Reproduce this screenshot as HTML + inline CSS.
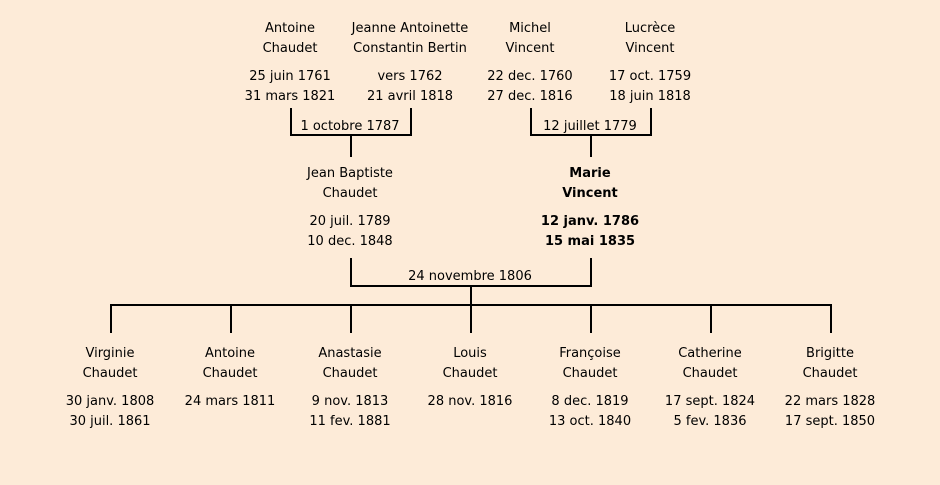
<!DOCTYPE html>
<html><head><meta charset="utf-8"><style>
body{margin:0;width:940px;height:485px;background:#fdebd8;position:relative;overflow:hidden;font-family:"Comic Sans MS","DejaVu Sans",sans-serif;font-size:13px;color:#000}
.t{position:absolute;width:160px;text-align:center;line-height:20px;white-space:nowrap;margin-top:2px}
.b{font-weight:bold}
.l{position:absolute;background:#000}
</style></head><body>
<div class="t" style="left:210px;top:17px">Antoine<br>Chaudet</div>
<div class="t" style="left:210px;top:65px">25 juin 1761<br>31 mars 1821</div>
<div class="t" style="left:330px;top:17px">Jeanne Antoinette<br>Constantin Bertin</div>
<div class="t" style="left:330px;top:65px">vers 1762<br>21 avril 1818</div>
<div class="t" style="left:450px;top:17px">Michel<br>Vincent</div>
<div class="t" style="left:450px;top:65px">22 dec. 1760<br>27 dec. 1816</div>
<div class="t" style="left:570px;top:17px">Lucrèce<br>Vincent</div>
<div class="t" style="left:570px;top:65px">17 oct. 1759<br>18 juin 1818</div>
<div class="l" style="left:290px;top:108px;width:2px;height:28px"></div>
<div class="l" style="left:410px;top:108px;width:2px;height:28px"></div>
<div class="l" style="left:290px;top:134px;width:122px;height:2px"></div>
<div class="l" style="left:350px;top:136px;width:2px;height:21px"></div>
<div class="t" style="left:270px;top:115px">1 octobre 1787</div>
<div class="l" style="left:530px;top:108px;width:2px;height:28px"></div>
<div class="l" style="left:650px;top:108px;width:2px;height:28px"></div>
<div class="l" style="left:530px;top:134px;width:122px;height:2px"></div>
<div class="l" style="left:590px;top:136px;width:2px;height:21px"></div>
<div class="t" style="left:510px;top:115px">12 juillet 1779</div>
<div class="t" style="left:270px;top:162px">Jean Baptiste<br>Chaudet</div>
<div class="t" style="left:270px;top:210px">20 juil. 1789<br>10 dec. 1848</div>
<div class="t b" style="left:510px;top:162px">Marie<br>Vincent</div>
<div class="t b" style="left:510px;top:210px">12 janv. 1786<br>15 mai 1835</div>
<div class="l" style="left:350px;top:258px;width:2px;height:29px"></div>
<div class="l" style="left:590px;top:258px;width:2px;height:29px"></div>
<div class="l" style="left:350px;top:285px;width:242px;height:2px"></div>
<div class="t" style="left:390px;top:265px">24 novembre 1806</div>
<div class="l" style="left:470px;top:287px;width:2px;height:19px"></div>
<div class="l" style="left:110px;top:304px;width:722px;height:2px"></div>
<div class="l" style="left:110px;top:304px;width:2px;height:29px"></div>
<div class="l" style="left:230px;top:304px;width:2px;height:29px"></div>
<div class="l" style="left:350px;top:304px;width:2px;height:29px"></div>
<div class="l" style="left:470px;top:304px;width:2px;height:29px"></div>
<div class="l" style="left:590px;top:304px;width:2px;height:29px"></div>
<div class="l" style="left:710px;top:304px;width:2px;height:29px"></div>
<div class="l" style="left:830px;top:304px;width:2px;height:29px"></div>
<div class="t" style="left:30px;top:342px">Virginie<br>Chaudet</div>
<div class="t" style="left:30px;top:390px">30 janv. 1808<br>30 juil. 1861</div>
<div class="t" style="left:150px;top:342px">Antoine<br>Chaudet</div>
<div class="t" style="left:150px;top:390px">24 mars 1811</div>
<div class="t" style="left:270px;top:342px">Anastasie<br>Chaudet</div>
<div class="t" style="left:270px;top:390px">9 nov. 1813<br>11 fev. 1881</div>
<div class="t" style="left:390px;top:342px">Louis<br>Chaudet</div>
<div class="t" style="left:390px;top:390px">28 nov. 1816</div>
<div class="t" style="left:510px;top:342px">Françoise<br>Chaudet</div>
<div class="t" style="left:510px;top:390px">8 dec. 1819<br>13 oct. 1840</div>
<div class="t" style="left:630px;top:342px">Catherine<br>Chaudet</div>
<div class="t" style="left:630px;top:390px">17 sept. 1824<br>5 fev. 1836</div>
<div class="t" style="left:750px;top:342px">Brigitte<br>Chaudet</div>
<div class="t" style="left:750px;top:390px">22 mars 1828<br>17 sept. 1850</div>
</body></html>
